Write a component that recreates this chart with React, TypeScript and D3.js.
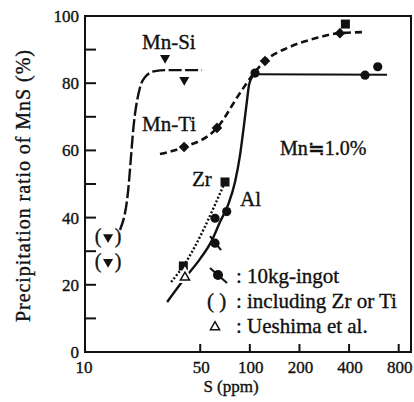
import React from "react";
import * as d3 from "d3";

// S content (ppm) vs precipitation ratio of MnS (%)
const Y_MAJOR = [0, 20, 40, 60, 80, 100];
const Y_MINOR = [10, 30, 50, 70, 90];
const X_TICKS = [10, 50, 100, 200, 400, 800];

const MN_SI_POINTS: [number, number][] = [[30.6, 87.5], [40.0, 81.0]];
const MN_SI_PAREN_POINTS: [number, number][] = [[13.8, 34.2], [13.8, 26.8]];
const MN_SI_CURVE: [number, number][] = [
  [16.3, 36.3], [18.0, 45.2], [20.0, 70.0], [21.5, 78.5], [23.1, 81.8], [26.6, 83.6], [30.6, 83.9], [51.3, 83.9],
];

const MN_TI_POINTS: [number, number][] = [[39.9, 61.0], [63.2, 66.7], [123.6, 86.6], [352, 94.9]];
const MN_TI_CURVE: [number, number][] = [
  [28.5, 58.9], [33.7, 59.8], [39.9, 61.0], [63.2, 66.7], [87.2, 77.1], [106, 83.0],
  [123.6, 86.6], [175, 90.8], [256, 93.5], [352, 94.9], [493, 95.2],
];

const AL_CURVE: [number, number][] = [
  [31.5, 14.9], [40.4, 22.0], [49.9, 27.7], [59.0, 33.3], [65.9, 38.7], [73.8, 43.8],
  [81.3, 50.6], [87.2, 58.6], [92.2, 67.6], [96.2, 75.0], [98.9, 79.5], [103, 81.8], [109, 82.7],
];
const AL_PLATEAU: [number, number][] = [[107.5, 82.7], [680, 82.5]];

const INGOT_POINTS: [number, number][] = [
  [61.5, 32.4], [61.5, 39.8], [72.4, 41.8], [107.5, 83.0], [500, 82.4], [597, 84.9],
];
const ZR_POINTS: [number, number][] = [[39.5, 25.6], [70.7, 50.6], [380, 97.6]];
const ZR_CURVE: [number, number][] = [[33.3, 20.8], [39.5, 25.6], [70.7, 50.6]];
const UESHIMA_POINTS: [number, number][] = [[40.4, 22.2]];

const W = 414;
const H = 402;
const LEFT = 85;
const RIGHT = 411;
const TOP = 16;
const BOTTOM = 352;

const serif = "Liberation Serif, Times New Roman, serif";
const ink = "#111";

export default function App() {
  const x = d3.scaleLog().domain([10, 950]).range([LEFT, RIGHT]);
  const y = d3.scaleLinear().domain([0, 100]).range([BOTTOM, TOP]);

  const line = d3
    .line<[number, number]>()
    .x((d) => x(d[0]))
    .y((d) => y(d[1]))
    .curve(d3.curveMonotoneX);
  const straight = d3
    .line<[number, number]>()
    .x((d) => x(d[0]))
    .y((d) => y(d[1]));

  const triDown = d3.symbol().type(d3.symbolTriangle).size(44)()!;
  const triUp = d3.symbol().type(d3.symbolTriangle).size(36)()!;
  const square = d3.symbol().type(d3.symbolSquare).size(81)()!;
  const diamond = d3.symbol().type(d3.symbolSquare).size(56)()!;

  const txt = (size: number) => ({
    fontFamily: serif,
    fontSize: size,
    fill: ink,
    stroke: ink,
    strokeWidth: 0.35,
  });

  return (
    <svg
      width={W}
      height={H}
      style={{ position: "absolute", left: 0, top: 0, background: "#fff" }}
    >
      <rect width={W} height={H} fill="#fff" />

      {/* frame */}
      <rect
        x={LEFT}
        y={TOP}
        width={RIGHT - LEFT}
        height={BOTTOM - TOP}
        fill="none"
        stroke={ink}
        strokeWidth={2}
      />

      {/* y ticks */}
      {[...Y_MAJOR, ...Y_MINOR].map((v) => (
        <line key={"yt" + v} x1={LEFT} x2={LEFT + 11} y1={y(v)} y2={y(v)} stroke={ink} strokeWidth={2} />
      ))}
      {Y_MAJOR.map((v) => (
        <text key={"yl" + v} x={LEFT - 6} y={y(v)} dy="0.35em" textAnchor="end" {...txt(17)}>
          {v}
        </text>
      ))}

      {/* x ticks */}
      {X_TICKS.filter((v) => v > 10).map((v) => (
        <line key={"xt" + v} x1={x(v)} x2={x(v)} y1={BOTTOM} y2={BOTTOM - 8} stroke={ink} strokeWidth={2} />
      ))}
      {X_TICKS.map((v) => (
        <text key={"xl" + v} x={x(v) + (v === 10 ? -1 : 1)} y={373} textAnchor="middle" {...txt(17)}>
          {v}
        </text>
      ))}

      {/* axis titles */}
      <text x={231} y={392} textAnchor="middle" {...txt(17)}>
        S (ppm)
      </text>
      <text
        transform="translate(30,186) rotate(-90)"
        textAnchor="middle"
        {...txt(20)}
        textLength={272}
        lengthAdjust="spacing"
      >
        Precipitation ratio of MnS (%)
      </text>

      {/* curves */}
      <path d={line(MN_SI_CURVE)!} fill="none" stroke={ink} strokeWidth={2.4} strokeDasharray="13,3.5" />
      <path d={line(MN_TI_CURVE)!} fill="none" stroke={ink} strokeWidth={2.6} strokeDasharray="7,4" />
      <path d={line(AL_CURVE)!} fill="none" stroke={ink} strokeWidth={2.4} />
      <path d={straight(AL_PLATEAU)!} fill="none" stroke={ink} strokeWidth={2} />
      <path d={line(ZR_CURVE)!} fill="none" stroke={ink} strokeWidth={2.4} strokeDasharray="2,2" />

      {/* Mn-Si markers */}
      {MN_SI_POINTS.map((d, i) => (
        <path key={"si" + i} d={triDown} transform={`translate(${x(d[0])},${y(d[1])}) rotate(180)`} fill={ink} />
      ))}
      {MN_SI_PAREN_POINTS.map((d, i) => (
        <g key={"sip" + i} transform={`translate(${x(d[0])},${y(d[1])})`}>
          <path d={triDown} transform="rotate(180)" fill={ink} />
          <text x={-10} y={6} textAnchor="middle" {...txt(20)}>(</text>
          <text x={10} y={6} textAnchor="middle" {...txt(20)}>)</text>
        </g>
      ))}

      {/* Mn-Ti markers */}
      {MN_TI_POINTS.map((d, i) => (
        <path key={"ti" + i} d={diamond} transform={`translate(${x(d[0])},${y(d[1])}) rotate(45)`} fill={ink} />
      ))}

      {/* Zr markers */}
      {ZR_POINTS.map((d, i) => (
        <path key={"zr" + i} d={square} transform={`translate(${x(d[0])},${y(d[1])})`} fill={ink} />
      ))}

      {/* 10kg-ingot markers */}
      {INGOT_POINTS.map((d, i) => (
        <g key={"in" + i} transform={`translate(${x(d[0])},${y(d[1])})`}>
          <circle r={4.6} fill={ink} />
          {i === 0 && <line x1={-5} y1={-7} x2={6} y2={7} stroke={ink} strokeWidth={2} />}
        </g>
      ))}

      {/* Ueshima et al. */}
      {UESHIMA_POINTS.map((d, i) => (
        <g key={"ue" + i} transform={`translate(${x(d[0])},${y(d[1])})`}>
          <path d={triUp} fill="#fff" stroke="#fff" strokeWidth={6} />
          <path d={triUp} fill="#fff" stroke={ink} strokeWidth={1.5} />
        </g>
      ))}

      {/* series labels */}
      <text x={142} y={49} {...txt(21)}>Mn-Si</text>
      <text x={142} y={131} {...txt(21)}>Mn-Ti</text>
      <text x={192} y={186} {...txt(21)}>Zr</text>
      <text x={240} y={206} {...txt(21)}>Al</text>
      <text x={280} y={155} {...txt(20)}>Mn≒1.0%</text>

      {/* legend */}
      <g>
        <circle cx={218} cy={275} r={5} fill={ink} />
        <line x1={210} y1={268} x2={227} y2={283} stroke={ink} strokeWidth={2} />
        <text x={236} y={283} {...txt(21)}>:</text>
        <text x={247} y={283} {...txt(21)}>10kg-ingot</text>

        <text x={207} y={308} {...txt(21)}>( )</text>
        <text x={236} y={308} {...txt(21)}>:</text>
        <text x={247} y={308} {...txt(21)}>including Zr or Ti</text>

        <path d={triUp} transform="translate(215,327)" fill="#fff" stroke={ink} strokeWidth={1.5} />
        <text x={236} y={333} {...txt(21)}>:</text>
        <text x={247} y={333} {...txt(21)}>Ueshima et al.</text>
      </g>
    </svg>
  );
}
